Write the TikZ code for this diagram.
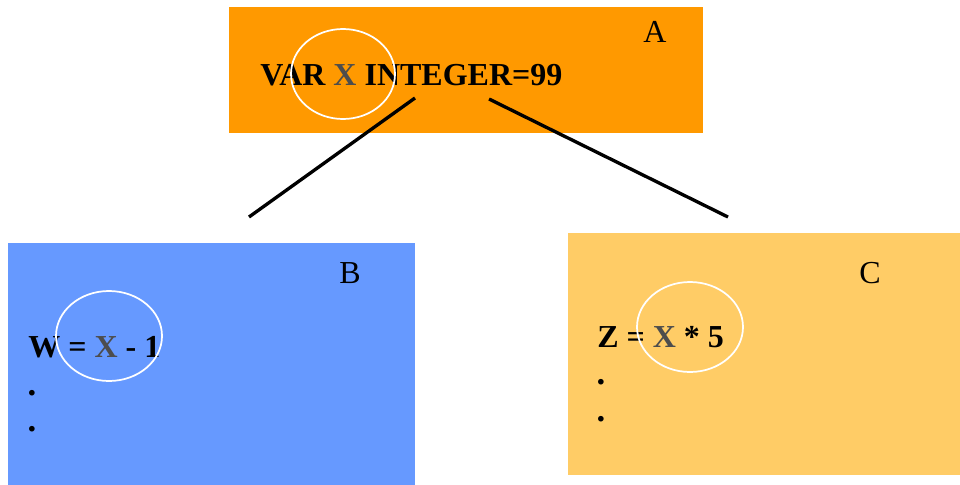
\documentclass[tikz,border=0pt]{standalone}
\usepackage{fontspec}
\setmainfont{Liberation Serif}
\usetikzlibrary{positioning}
\definecolor{boxorange}{HTML}{FF9900}
\definecolor{boxblue}{HTML}{6699FF}
\definecolor{boxsand}{HTML}{FFCC66}
\definecolor{xgray}{HTML}{4D4D4D}
\tikzset{
  code/.style={anchor=base west, inner sep=0pt, font=\fontsize{24}{28}\selectfont\bfseries},
  tag/.style={anchor=base, inner sep=0pt, font=\fontsize{24}{28}\selectfont},
  dotmark/.style={inner sep=0pt, font=\fontsize{26}{30}\selectfont\bfseries},
  ring/.style={draw=white, line width=1.3pt},
  link/.style={line width=2.5pt},
}
\newcommand{\gx}{\textcolor{xgray}{X}}

\begin{document}
\begin{tikzpicture}[x=0.75pt, y=-0.75pt]
  \useasboundingbox (0,0) rectangle (960,485);

  % boxes
  \fill[boxorange] (229,7) rectangle (703,133);
  \fill[boxblue] (8,243) rectangle (415,485);
  \fill[boxsand] (568,233) rectangle (960,475);

  % A
  \node[tag] (tagA) at (655,43) {A};
  \node[code] (codeA) at (260,85) {VAR \gx{} INTEGER=99};
  \draw[ring] (343,74) ellipse [x radius=52, y radius=45];

  % B
  \node[tag] (tagB) at (350,283) {B};
  \node[code] (codeB) at (28,357) {W = \gx{} - 1};
  \node[dotmark] (dotB1) at (32,393) {.};
  \node[dotmark] (dotB2) at (32,429) {.};
  \draw[ring] (109,336) ellipse [x radius=53, y radius=45];

  % C
  \node[tag] (tagC) at (870,283) {C};
  \node[code] (codeC) at (597,347) {Z = \gx{} * 5};
  \node[dotmark] (dotC1) at (601,382) {.};
  \node[dotmark] (dotC2) at (601,419) {.};
  \draw[ring] (690,327) ellipse [x radius=53, y radius=45];

  % links
  \coordinate (fromA1) at (415,98);
  \coordinate (toB) at (249,217);
  \coordinate (fromA2) at (489,99);
  \coordinate (toC) at (728,217);
  \draw[link] (fromA1) -- (toB);
  \draw[link] (fromA2) -- (toC);
\end{tikzpicture}
\end{document}
